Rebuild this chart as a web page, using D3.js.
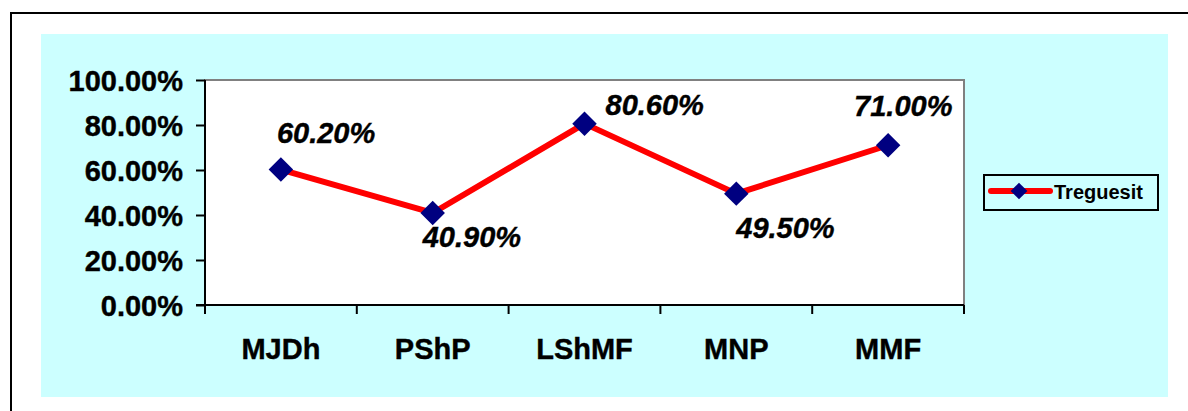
<!DOCTYPE html>
<html>
<head>
<meta charset="utf-8">
<script src="https://cdn.jsdelivr.net/npm/d3@7"></script>
<style>
  html, body { margin: 0; padding: 0; background: #fff; }
  svg { display: block; font-family: Arial, "Liberation Sans", sans-serif; }
</style>
</head>
<body>
<svg id="chart" width="1188" height="411"></svg>
<script>
'use strict';

// data
var categories = ["MJDh", "PShP", "LShMF", "MNP", "MMF"];
var values     = [60.2, 40.9, 80.6, 49.5, 71.0];
var yTicks     = [0, 20, 40, 60, 80, 100];
var seriesName = "Treguesit";

var svg = d3.select("#chart");

// outer frame and cyan chart area
svg.append("line").attr("x1", 10).attr("x2", 1188).attr("y1", 13).attr("y2", 13)
    .style("stroke", "#000").style("stroke-width", 2);
svg.append("line").attr("x1", 11).attr("x2", 11).attr("y1", 12).attr("y2", 411)
    .style("stroke", "#000").style("stroke-width", 2);
svg.append("rect").attr("x", 41).attr("y", 34).attr("width", 1127).attr("height", 363)
    .style("fill", "#ccffff");

var plot = {left: 205, top: 80, right: 964, bottom: 305};

var xScale = d3.scaleBand().domain(categories).range([plot.left, plot.right]);
var yScale = d3.scaleLinear().domain([0, 100]).range([plot.bottom, plot.top]);

// plot area
svg.append("rect")
    .attr("x", plot.left).attr("y", plot.top)
    .attr("width", plot.right - plot.left).attr("height", plot.bottom - plot.top)
    .style("fill", "#fff").style("stroke", "#808080").style("stroke-width", 2);

// y axis
var yAxis = d3.axisLeft(yScale).tickValues(yTicks).tickSize(9).tickPadding(13)
    .tickFormat(function(d){ return d.toFixed(2) + "%"; });
var gy = svg.append("g").attr("transform", "translate(" + plot.left + ",0)").call(yAxis);
gy.select(".domain").remove();
gy.append("line").attr("x1", 0).attr("x2", 0).attr("y1", plot.top).attr("y2", plot.bottom + 1)
    .style("stroke", "#000").style("stroke-width", 2);
gy.selectAll(".tick line").style("stroke", "#000").style("stroke-width", 2);
gy.selectAll(".tick text")
    .style("font-size", "29px").style("font-weight", "bold").style("fill", "#000")
    .style("stroke", "#000").style("stroke-width", 0.4)
    .attr("dy", "0.36em");

// x axis, ticks on category boundaries
var gx = svg.append("g").attr("transform", "translate(0," + plot.bottom + ")");
gx.append("line").attr("x1", plot.left - 9).attr("x2", plot.right).attr("y1", 0).attr("y2", 0)
    .style("stroke", "#000").style("stroke-width", 2);
var bounds = categories.map(function(c){ return xScale(c); }).concat([plot.right]);
gx.selectAll("line.tk").data(bounds).enter().append("line").attr("class", "tk")
    .attr("x1", function(d){ return d; }).attr("x2", function(d){ return d; })
    .attr("y1", 0).attr("y2", 9)
    .style("stroke", "#000").style("stroke-width", 2);
gx.selectAll("text").data(categories).enter().append("text")
    .attr("x", function(d){ return xScale(d) + xScale.bandwidth() / 2; })
    .attr("y", 54)
    .attr("text-anchor", "middle")
    .style("font-size", "29px").style("font-weight", "bold")
    .style("stroke", "#000").style("stroke-width", 0.4)
    .text(function(d){ return d; });

// series line
var cx = function(i){ return xScale(categories[i]) + xScale.bandwidth() / 2; };
var line = d3.line()
    .x(function(d, i){ return cx(i); })
    .y(function(d){ return yScale(d); });

svg.append("path").datum(values)
    .attr("d", line)
    .style("fill", "none").style("stroke", "#ff0000").style("stroke-width", 6)
    .style("stroke-linejoin", "round");

var diamond = d3.symbol().type(d3.symbolSquare).size(300);
svg.selectAll("path.pt").data(values).enter().append("path").attr("class", "pt")
    .attr("d", diamond)
    .attr("transform", function(d, i){ return "translate(" + cx(i) + "," + yScale(d) + ") rotate(45)"; })
    .style("fill", "#000080");

// data labels (offsets from point, as placed in the original)
var labelOffsets = [[-4, -27], [-10, 34], [21, -9], [0, 44], [-34, -29]];
svg.selectAll("text.lbl").data(values).enter().append("text").attr("class", "lbl")
    .attr("x", function(d, i){ return cx(i) + labelOffsets[i][0]; })
    .attr("y", function(d, i){ return yScale(d) + labelOffsets[i][1]; })
    .style("font-size", "29px").style("font-weight", "bold").style("font-style", "italic")
    .style("stroke", "#000").style("stroke-width", 0.4)
    .text(function(d){ return d.toFixed(2) + "%"; });

// legend
var lg = svg.append("g").attr("transform", "translate(984,175)");
lg.append("rect").attr("width", 174).attr("height", 35)
    .style("fill", "none").style("stroke", "#000").style("stroke-width", 2);
lg.append("line").attr("x1", 7).attr("x2", 66).attr("y1", 16).attr("y2", 16)
    .style("stroke", "#ff0000").style("stroke-width", 6).style("stroke-linecap", "round");
lg.append("path").attr("d", d3.symbol().type(d3.symbolSquare).size(140))
    .attr("transform", "translate(35,16) rotate(45)")
    .style("fill", "#000080");
lg.append("text").attr("x", 70).attr("y", 24)
    .style("font-size", "20px").style("font-weight", "bold")
    .text(seriesName);
</script>
</body>
</html>
